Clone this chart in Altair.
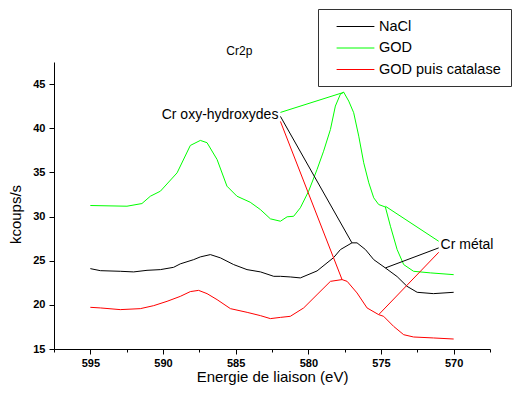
import altair as alt
import pandas as pd

FONT = "Liberation Sans"

series_names = ["NaCl", "GOD", "GOD puis catalase"]
series_colors = ["#000000", "#00ff00", "#ff0000"]

nacl_e = [595.0, 594.31, 592.94, 592.02, 591.10, 590.18, 589.27, 588.81, 587.89, 587.43,
          586.74, 586.05, 585.14, 584.22, 583.29, 582.38, 581.92, 581.24, 580.55, 579.40,
          578.26, 577.79, 577.0, 576.65, 576.07, 575.50, 574.70, 573.89, 573.21, 572.51,
          571.39, 570.0]
nacl_v = [24.10, 23.87, 23.80, 23.73, 23.91, 23.99, 24.25, 24.64, 25.12, 25.43,
          25.69, 25.32, 24.56, 23.99, 23.73, 23.23, 23.23, 23.16, 23.05, 23.84,
          25.35, 26.26, 27.02, 27.02, 26.26, 25.12, 24.18, 23.20, 22.10, 21.42,
          21.27, 21.42]

god_e = [595.0, 592.48, 591.45, 590.87, 590.18, 589.03, 588.12, 587.43, 586.97, 586.28,
         585.60, 584.91, 584.0, 583.30, 582.61, 581.92, 581.46, 581.01, 580.55, 579.98,
         579.40, 578.95, 578.48, 578.14, 577.80, 577.57, 577.22, 576.88, 576.53, 576.19,
         575.84, 575.50, 575.16, 574.70, 574.35, 573.89, 573.44, 572.76, 571.60, 570.0]
god_v = [31.25, 31.17, 31.47, 32.30, 32.87, 34.95, 38.05, 38.62, 38.36, 36.46,
         33.44, 32.30, 31.62, 30.79, 29.74, 29.47, 29.97, 30.03, 30.99, 32.87,
         35.33, 37.40, 39.86, 42.51, 43.83, 44.09, 43.07, 41.76, 39.10, 36.09,
         33.82, 32.12, 31.36, 31.08, 28.90, 26.26, 24.56, 23.80, 23.62, 23.42]

cat_e = [595.0, 594.31, 592.94, 591.56, 590.64, 589.72, 588.81, 588.12, 587.55, 586.97,
         586.28, 585.36, 584.21, 583.30, 582.61, 581.92, 581.24, 580.32, 579.40, 578.48,
         577.68, 577.33, 576.65, 575.96, 575.16, 574.82, 574.13, 573.44, 572.76, 571.38,
         570.0]
cat_v = [19.72, 19.65, 19.46, 19.57, 19.91, 20.40, 20.96, 21.50, 21.64, 21.27,
         20.59, 19.57, 19.15, 18.78, 18.44, 18.58, 18.70, 19.65, 21.16, 22.66,
         22.86, 22.66, 21.35, 19.65, 18.89, 18.70, 17.56, 16.62, 16.36, 16.25,
         16.13]

# annotation segments (pairs of points)
seg_id = ["o1", "o1", "o2", "o2", "o3", "o3", "m1", "m1", "m2", "m2", "m3", "m3"]
seg_serie = ["GOD", "GOD", "NaCl", "NaCl", "GOD puis catalase", "GOD puis catalase",
             "GOD", "GOD", "NaCl", "NaCl", "GOD puis catalase", "GOD puis catalase"]
seg_e = [581.92, 577.57, 581.92, 577.0, 581.92, 577.68,
         574.70, 571.03, 574.70, 571.03, 575.16, 571.03]
seg_v = [41.79, 44.06, 41.34, 27.02, 40.77, 22.86,
         31.17, 27.20, 24.18, 26.45, 18.89, 25.95]

label_text = ["Cr oxy-hydroxydes", "Cr métal", "Cr2p"]
label_e = [582.06, 570.90, 584.75]
label_v = [41.55, 26.80, 48.80]

x_major = [570, 575, 580, 585, 590, 595]
x_minor = [567.5, 572.5, 577.5, 582.5, 587.5, 592.5, 597.5]
y_ticks = [15 + 2.5 * i for i in range(14)]

rows = []
for name, es, vs in zip(series_names, [nacl_e, god_e, cat_e], [nacl_v, god_v, cat_v]):
    for e, v in zip(es, vs):
        rows.append({"energie": e, "kcoups": v, "serie": name})
df = pd.DataFrame(rows)
seg_df = pd.DataFrame({"energie": seg_e, "kcoups": seg_v, "serie": seg_serie, "seg": seg_id})
lab_df = pd.DataFrame({"energie": label_e, "kcoups": label_v, "txt": label_text})

xscale = alt.Scale(domain=[567.5, 597.5], reverse=True, nice=False, zero=False)
yscale = alt.Scale(domain=[15, 47.5], nice=False, zero=False)
cscale = alt.Scale(domain=series_names, range=series_colors)

tick_size = {"condition": {"test": "datum.value % 5 === 0", "value": 5}, "value": 3}

x_axis = alt.Axis(values=x_major, orient="bottom", tickSize=5, labelFontWeight="bold",
                  labelFontSize=11, labelFont=FONT, labelColor="black", labelPadding=3,
                  labelOverlap=False, labelFlush=False, grid=False, domainColor="black",
                  tickColor="black", title="Energie de liaison (eV)", titleFont=FONT,
                  titleFontSize=15, titleFontWeight="normal", titleColor="black",
                  titleX=218, titleY=32, titleBaseline="alphabetic")
x_axis_minor = alt.Axis(values=x_minor, orient="bottom", tickSize=3, labels=False,
                        domain=False, grid=False, tickColor="black", title="")
y_axis = alt.Axis(values=y_ticks, labelExpr="datum.value % 5 === 0 ? datum.label : ''",
                  tickSize=tick_size, labelFontWeight="bold", labelFontSize=11,
                  labelFont=FONT, labelColor="black", labelPadding=4, labelOverlap=False,
                  labelFlush=False, grid=False, domainColor="black", tickColor="black",
                  title="kcoups/s", titleFont=FONT, titleFontSize=15,
                  titleFontWeight="normal", titleColor="black", titleX=-31, titleY=152)

legend = alt.Legend(title=None, orient="none", legendX=264, legendY=-53, direction="vertical",
                    symbolType="M-2.7,0H2.7", symbolSize=196, symbolStrokeWidth=1,
                    symbolOffset=20, labelOffset=16, labelFontSize=14.5, labelFont=FONT,
                    labelColor="black", padding=10, rowPadding=6.5, strokeColor="#333333",
                    fillColor="white")

lines = alt.Chart(df).mark_line(strokeWidth=1).encode(
    x=alt.X("energie:Q", scale=xscale, axis=x_axis),
    y=alt.Y("kcoups:Q", scale=yscale, axis=y_axis),
    color=alt.Color("serie:N", scale=cscale, legend=legend, sort=series_names),
)

segs = alt.Chart(seg_df).mark_line(strokeWidth=1).encode(
    x=alt.X("energie:Q", scale=xscale, axis=x_axis_minor),
    y=alt.Y("kcoups:Q", scale=yscale),
    color=alt.Color("serie:N", scale=cscale, legend=None),
    detail="seg:N",
)

lab_right = alt.Chart(lab_df).transform_filter(alt.datum.txt == "Cr oxy-hydroxydes").mark_text(
    align="right", baseline="middle", font=FONT, fontSize=14, color="black"
).encode(
    x=alt.X("energie:Q", scale=xscale, axis=None),
    y=alt.Y("kcoups:Q", scale=yscale),
    text="txt:N",
)
lab_left = alt.Chart(lab_df).transform_filter(alt.datum.txt == "Cr métal").mark_text(
    align="left", baseline="middle", font=FONT, fontSize=14, color="black"
).encode(
    x=alt.X("energie:Q", scale=xscale, axis=None),
    y=alt.Y("kcoups:Q", scale=yscale),
    text="txt:N",
)
lab_title = alt.Chart(lab_df).transform_filter(alt.datum.txt == "Cr2p").mark_text(
    align="center", baseline="middle", font=FONT, fontSize=12, color="black"
).encode(
    x=alt.X("energie:Q", scale=xscale, axis=None),
    y=alt.Y("kcoups:Q", scale=yscale),
    text="txt:N",
)

chart = alt.layer(lines, segs, lab_right, lab_left, lab_title).resolve_axis(
    x="independent"
).properties(
    width=436, height=287,
    autosize=alt.AutoSizeParams(type="none"),
    padding={"left": 46, "top": 54, "right": 24, "bottom": 37},
).configure_view(stroke=None)

chart.save("out.html", embed_options={"renderer": "svg", "actions": False})
